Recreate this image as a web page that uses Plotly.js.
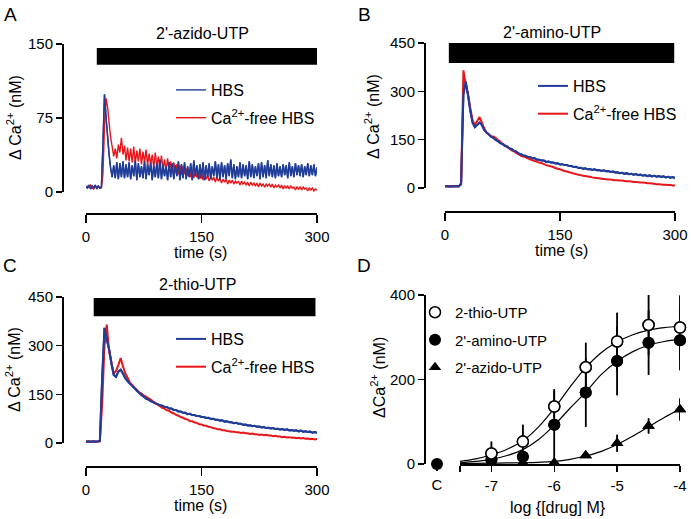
<!DOCTYPE html>
<html><head><meta charset="utf-8">
<script src="https://cdn.plot.ly/plotly-3.0.1.min.js"></script>
<style>body{margin:0;background:#fff}#chart{width:691px;height:519px}</style>
</head><body><div id="chart"></div>
<script>
// ---------- DATA ----------
// Panels A-C: time traces, sampled at regular intervals from t = 0 s
const dtA = 2;   // s
const dtBC = 3;  // s
const aHBS = [6,4,7,3,6,4,7,3,6,4,5,48,99,76,57,38,24,15,
 27,14,30,13,29,15,31,14,
 28,15,30,13,27,16,32,12,29,15,26,14,31,13,28,17,30,12,27,15,29,14,33,13,
 28,16,26,12,30,15,29,13,27,16,31,12,28,14,30,13,26,15,29,12,32,16,27,13,28,14,
 30,12,27,15,29,13,26,16,31,14,28,12,30,15,27,13,29,16,33,14,28,13,26,15,
 30,14,28,16,27,13,31,15,28,14,26,16,29,13,30,15,27,14,32,16,28,15,27,14,29,16,
 26,15,28,17,27,14,30,16,26,15,29,17,27,16,28,15,26,17,29,16,27,17,28,16,25];
const aFree = [4,6,5,7,4,3,6,5,6,4,4,18,66,95,86,70,55,46,
 36,44,34,48,40,55,38,47,
 32,45,31,44,30,46,29,42,31,44,28,41,30,43,27,39,28,38,25,40,26,36,24,37,
 23,33,22,34,21,31,20,30,22,28,18,27,17,26,18,24,16,23,15,22,14,21,15,20,13,19,
 12,18,13,17,11,16,12,15,10,15,11,14,9,13,10,13,8,12,9,12,8,11,9,11,
 7,11,8,10,7,10,6,10,7,9,6,9,5,9,6,8,5,8,6,8,5,8,4,7,5,7,
 4,7,3,6,4,6,3,6,4,5,2,5,3,5,2,5,3,4,1,4,2,4,1,3,2];
const bHBS = [5,6,4,6,5,6,5,14,290,330,288,240,203,189,196,203,196,181,172,167,
 159,156,149,146,139,137,131,129,123,121,115,113,107,105,101,100,96,96,92,92,
 88,88,85,85,81,82,79,79,76,77,73,74,71,71,68,68,65,66,62,63,
 60,61,58,59,56,58,55,56,53,55,52,53,50,51,48,49,46,47,44,46,
 43,44,41,43,40,42,38,40,37,39,36,38,35,37,34,36,33,35,32,34,31];
const bFree = [6,5,6,4,6,5,6,10,365,322,292,248,210,196,208,220,204,186,173,166,
 161,160,156,149,144,137,133,127,123,117,114,108,105,100,98,95,92,89,86,84,
 81,79,77,74,71,69,67,65,62,60,58,55,53,51,49,47,45,43,41,40,
 38,37,36,35,33,32,31,30,29,28,27,26,26,25,24,24,23,23,22,21,
 21,20,19,19,18,17,17,16,15,15,14,13,12,12,11,10,10,9,9,8,8];
const cHBS = [4,5,3,5,4,5,6,200,355,318,290,245,210,204,220,226,214,200,191,183,
 176,169,161,155,148,143,137,134,129,126,122,120,116,115,111,111,106,106,102,102,
 97,97,93,93,89,90,86,86,83,83,80,80,77,78,74,75,72,72,69,70,
 66,67,64,64,61,62,59,59,56,57,54,55,52,53,50,51,48,49,46,47,
 45,46,43,44,42,43,40,42,39,40,38,39,36,38,35,36,34,35,32,34,31];
const cFree = [5,4,5,3,5,4,5,120,300,365,282,250,214,222,240,262,236,215,201,186,
 179,170,164,156,152,146,143,138,134,128,124,118,114,108,106,101,99,94,91,87,
 84,80,78,74,72,68,67,63,62,58,57,54,53,50,49,46,45,42,42,39,
 39,37,36,35,35,33,33,31,32,30,30,28,29,27,27,25,26,24,25,23,
 23,21,22,20,20,18,19,17,18,16,17,15,16,14,15,13,14,12,13,11,12];
// drug application bars [start s, end s, low, high]
const barA = [14, 302, 129, 146];
const barB = [5, 299, 388, 450];
const barC = [10, 298, 391, 447];
const traceTitles = ["2'-azido-UTP", "2'-amino-UTP", "2-thio-UTP"];
const seriesNames = ["HBS", "Ca<sup>2+</sup>-free HBS"];

// Panel D: concentration-response
const logConc = [-7, -6.5, -6, -5.5, -5, -4.5, -4];
const thio  = [25, 53, 136, 229, 290, 329, 323];
const thioErr = [28, 40, 38, 58, 68, 71, 76];
const amino = [10, 17, 93, 169, 244, 287, 293];
const aminoErr = [5, 8, 84, 81, 81, 76, 71];
const azido = [2, 3, 3, 20, 49, 90, 129];
const azidoErr = [0, 0, 0, 3, 20, 18, 26];
const controlVal = [0];
const fitX = [-7.5,-7.25,-7,-6.75,-6.5,-6.25,-6,-5.75,-5.5,-5.25,-5,-4.75,-4.5,-4.25,-4];
const thioFit  = [6,12,22,35,55,88,132,182,228,264,289,306,317,323,326];
const aminoFit = [3,6,11,20,34,58,92,132,170,212,243,266,281,290,295];
const azidoFit = [1,1.5,2,2.5,3,4,6,11,19,30,46,66,88,110,130];
const dNames = ["2-thio-UTP", "2'-amino-UTP", "2'-azido-UTP"];

// ---------- LAYOUT HELPERS ----------
const W = 691, H = 519;
const px = v => v / W;
const py = v => 1 - v / H;
const FONT = 'Liberation Sans, Arial, Helvetica, sans-serif';
const BLUE = '#1f3c98', RED = '#e8161b';

function axBase(extra) {
  return Object.assign({
    showgrid: false, zeroline: false, showline: true, linecolor: 'black', linewidth: 1.5,
    ticks: 'outside', ticklen: 6, tickwidth: 1.5, tickcolor: 'black',
    tickfont: {size: 15, color: 'black', family: FONT}, fixedrange: true
  }, extra);
}

const data = [];
function timePanel(xa, ya, leg, blue, red, dt, lw) {
  const blueTrace = {type: 'scatter', mode: 'lines', x0: 0, dx: dt, y: blue, xaxis: xa, yaxis: ya,
    name: seriesNames[0], legend: leg, legendgroup: leg + 'b',
    line: {color: BLUE, width: lw, simplify: false}};
  data.push(blueTrace);
  data.push({type: 'scatter', mode: 'lines', x0: 0, dx: dt, y: red, xaxis: xa, yaxis: ya,
    name: seriesNames[1], legend: leg, legendgroup: leg + 'r',
    line: {color: RED, width: lw, simplify: false}});
  // HBS trace drawn again on top of the Ca2+-free trace (as in the original figure)
  data.push(Object.assign({}, blueTrace, {showlegend: false}));
}
timePanel('x', 'y', 'legend', aHBS, aFree, dtA, 1.4);
timePanel('x2', 'y2', 'legend2', bHBS, bFree, dtBC, 2);
timePanel('x3', 'y3', 'legend3', cHBS, cFree, dtBC, 2);

// Panel D
function errs(a) { return {type: 'data', array: a, visible: true, color: 'black', thickness: 1.5, width: 0}; }
const dThio = {type: 'scatter', mode: 'markers', x: logConc, y: thio, error_y: errs(thioErr),
  xaxis: 'x4', yaxis: 'y4', name: dNames[0], legend: 'legend4', legendgroup: 'dt', cliponaxis: false,
  marker: {symbol: 'circle', size: 11, color: 'white', line: {color: 'black', width: 1.5}}};
const dAmino = {type: 'scatter', mode: 'markers', x: logConc, y: amino, error_y: errs(aminoErr),
  xaxis: 'x4', yaxis: 'y4', name: dNames[1], legend: 'legend4', legendgroup: 'da', cliponaxis: false,
  marker: {symbol: 'circle', size: 12, color: 'black'}};
const dAzido = {type: 'scatter', mode: 'markers', x: logConc, y: azido, error_y: errs(azidoErr),
  xaxis: 'x4', yaxis: 'y4', name: dNames[2], legend: 'legend4', legendgroup: 'dz', cliponaxis: false,
  marker: {symbol: 'triangle-up', size: 11, color: 'black'}};
data.push(dThio, dAmino, dAzido);
[thioFit, aminoFit, azidoFit].forEach(f => {
  data.push({type: 'scatter', mode: 'lines', x: fitX, y: f, xaxis: 'x4', yaxis: 'y4',
    line: {color: 'black', width: 1.2, shape: 'spline'}, showlegend: false, cliponaxis: false});
});
// markers redrawn above the fitted curves
[dAzido, dAmino, dThio].forEach(t => data.push(Object.assign({}, t, {showlegend: false})));
data.push({type: 'scatter', mode: 'markers', x: [0], y: controlVal, xaxis: 'x5', yaxis: 'y4',
  showlegend: false, cliponaxis: false, marker: {symbol: 'circle', size: 12, color: 'black'}});

function legendAt(x, y, size, gap) {
  return {x: px(x), y: py(y), xanchor: 'left', yanchor: 'top', bgcolor: 'rgba(0,0,0,0)',
    font: {size: size, color: 'black', family: FONT}, traceorder: 'grouped', tracegroupgap: gap};
}

function bar(b, xr, yr) {
  return {type: 'rect', xref: xr, yref: yr, x0: b[0], x1: b[1], y0: b[2], y1: b[3],
    fillcolor: 'black', line: {width: 0}};
}

function ann(text, x, y, size, extra) {
  return Object.assign({text: text, x: px(x), y: py(y), xref: 'paper', yref: 'paper',
    showarrow: false, xanchor: 'center', yanchor: 'middle',
    font: {size: size, color: 'black', family: FONT}}, extra || {});
}

const layout = {
  width: W, height: H, margin: {l: 0, r: 0, t: 0, b: 0},
  paper_bgcolor: 'white', plot_bgcolor: 'rgba(0,0,0,0)',
  font: {family: FONT, color: 'black'},
  xaxis:  axBase({domain: [px(86), px(317)], range: [0, 300], anchor: 'free', position: py(213), tickvals: [0, 150, 300], ticklen: 8, ticklabelstandoff: 1}),
  yaxis:  axBase({domain: [py(192), py(44)], range: [0, 150], anchor: 'free', position: px(62), tickvals: [0, 75, 150]}),
  xaxis2: axBase({domain: [px(445), px(675)], range: [0, 300], anchor: 'free', position: py(211), tickvals: [0, 150, 300], ticklen: 8, ticklabelstandoff: 1}),
  yaxis2: axBase({domain: [py(188), py(43)], range: [0, 450], anchor: 'free', position: px(424), tickvals: [0, 150, 300, 450]}),
  xaxis3: axBase({domain: [px(86), px(317)], range: [0, 300], anchor: 'free', position: py(466), tickvals: [0, 150, 300], ticklen: 8, ticklabelstandoff: 1}),
  yaxis3: axBase({domain: [py(443), py(297)], range: [0, 450], anchor: 'free', position: px(62), tickvals: [0, 150, 300, 450]}),
  xaxis4: axBase({domain: [px(460), px(680)], range: [-7.5, -4], anchor: 'y4', tickvals: [-7.5, -7, -6, -5, -4], ticktext: ['', '-7', '-6', '-5', '-4'], ticklabelstandoff: 1}),
  xaxis5: axBase({domain: [px(427), px(447)], range: [-1, 1], anchor: 'y4', showline: false, tickvals: [0], ticktext: ['C'], ticklabelstandoff: 1}),
  yaxis4: axBase({domain: [py(464), py(295)], range: [0, 400], anchor: 'free', position: px(424), tickvals: [0, 200, 400]}),
  legend:  legendAt(171, 73, 16, 4),
  legend2: legendAt(533, 69, 16, 4),
  legend3: legendAt(171, 322, 16, 4),
  legend4: legendAt(415, 296, 15, 5),
  shapes: [bar(barA, 'x', 'y'), bar(barB, 'x2', 'y2'), bar(barC, 'x3', 'y3')],
  annotations: [
    ann('A', 10, 14, 19), ann('B', 364, 14, 19), ann('C', 10, 265, 19), ann('D', 364, 265, 19),
    ann(traceTitles[0], 202, 33, 16), ann(traceTitles[1], 552, 32, 16), ann(traceTitles[2], 197, 284, 16),
    ann('\u0394 Ca<sup>2+</sup> (nM)', 14, 118, 16, {textangle: -90}),
    ann('\u0394 Ca<sup>2+</sup> (nM)', 372, 116, 16, {textangle: -90}),
    ann('\u0394 Ca<sup>2+</sup> (nM)', 13, 370, 16, {textangle: -90}),
    ann('\u0394Ca<sup>2+</sup> (nM)', 378, 378, 16, {textangle: -90}),
    ann('time (s)', 201, 252, 16), ann('time (s)', 561, 251, 16), ann('time (s)', 201, 505, 16),
    ann('log {[drug] M}', 558, 507, 16)
  ]
};

Plotly.newPlot('chart', data, layout, {staticPlot: true, displayModeBar: false});
</script>
</body></html>
